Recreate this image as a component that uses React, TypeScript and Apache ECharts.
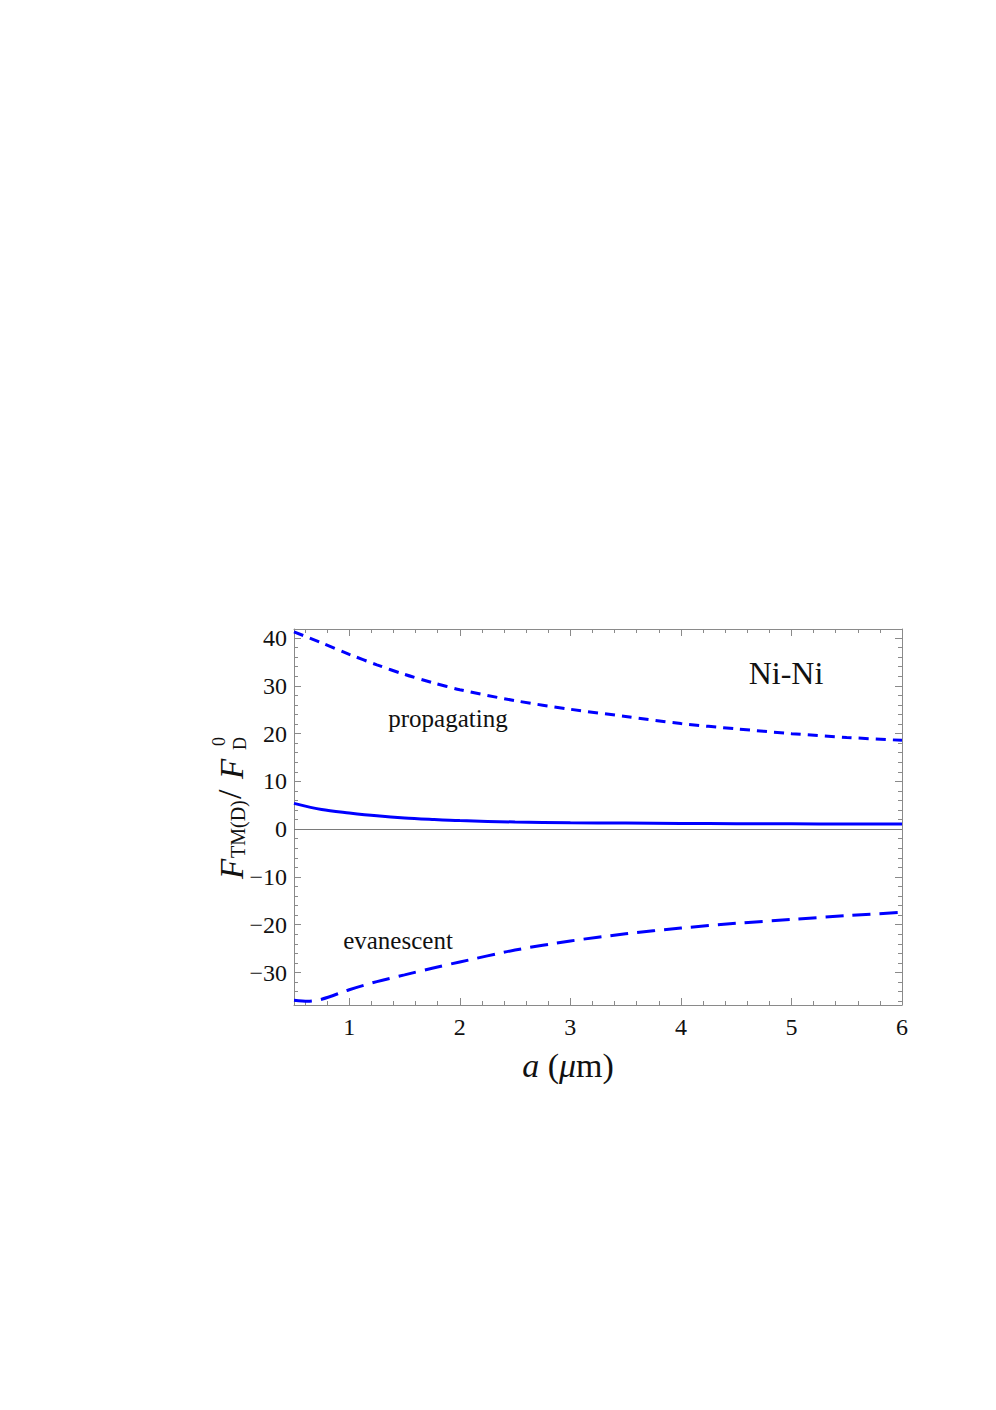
import React, { useEffect, useRef } from "react";
import * as echarts from "echarts";

// propagating contribution (short dashed)
const propA = [0.5, 0.75, 1, 1.25, 1.5, 1.75, 2, 2.5, 3, 3.5, 4, 4.5, 5, 5.5, 6];
const propF = [41.3, 39.0, 36.6, 34.4, 32.4, 30.7, 29.2, 26.9, 25.1, 23.6, 22.1, 21.0, 20.0, 19.2, 18.6];

// evanescent contribution (long dashed)
const evanA = [0.5, 0.625, 0.75, 1, 1.25, 1.5, 1.75, 2, 2.5, 3, 3.5, 4, 4.5, 5, 5.5, 6];
const evanF = [-35.8, -36.0, -35.6, -33.6, -31.9, -30.5, -29.1, -27.8, -25.3, -23.4, -21.9, -20.7, -19.7, -18.9, -18.1, -17.4];

// total (solid)
const totA = [0.5, 0.75, 1, 1.25, 1.5, 1.75, 2, 2.5, 3, 3.5, 4, 4.5, 5, 5.5, 6];
const totF = [5.4, 4.1, 3.4, 2.8, 2.35, 2.05, 1.8, 1.5, 1.35, 1.27, 1.2, 1.15, 1.12, 1.1, 1.08];

const xMajor = [1, 2, 3, 4, 5, 6];
const xMinor = [0.6, 0.8, 1.2, 1.4, 1.6, 1.8, 2.2, 2.4, 2.6, 2.8, 3.2, 3.4, 3.6, 3.8, 4.2, 4.4, 4.6, 4.8, 5.2, 5.4, 5.6, 5.8];
const yMajor = [-30, -20, -10, 0, 10, 20, 30, 40];
const yMinor = [-36, -34, -32, -28, -26, -24, -22, -18, -16, -14, -12, -8, -6, -4, -2, 2, 4, 6, 8, 12, 14, 16, 18, 22, 24, 26, 28, 32, 34, 36, 38];

const X_MIN = 0.5;
const X_MAX = 6;
const Y_MIN = -36.8;
const Y_MAX = 41.9;

const FONT = "Liberation Serif";
const FRAME = "#8a8a8a";
const BLUE = "#0000ff";

function zip(a: number[], b: number[]) {
  return a.map((v, i) => [v, b[i]]);
}

function xAxis(position: "top" | "bottom", ticks: number[], len: number, line: boolean, label: boolean) {
  return {
    type: "value",
    position,
    min: X_MIN,
    max: X_MAX,
    axisLine: { show: line, onZero: false, lineStyle: { color: FRAME, width: 1 } },
    axisTick: { show: true, inside: true, length: len, customValues: ticks, lineStyle: { color: FRAME, width: 1 } },
    axisLabel: {
      show: label,
      customValues: ticks,
      fontSize: 24,
      fontFamily: FONT,
      color: "#111",
      margin: 10,
    },
    splitLine: { show: false },
  };
}

function yAxis(position: "left" | "right", ticks: number[], len: number, line: boolean, label: boolean) {
  return {
    type: "value",
    position,
    min: Y_MIN,
    max: Y_MAX,
    axisLine: { show: line, onZero: false, lineStyle: { color: FRAME, width: 1 } },
    axisTick: { show: true, inside: true, length: len, customValues: ticks, lineStyle: { color: FRAME, width: 1 } },
    axisLabel: {
      show: label,
      customValues: ticks,
      fontSize: 24,
      fontFamily: FONT,
      color: "#111",
      margin: 7,
      formatter: (v: number) => String(v).replace("-", "\u2212"),
    },
    splitLine: { show: false },
  };
}

export default function App() {
  const ref = useRef<HTMLDivElement>(null);
  useEffect(() => {
    document.body.style.margin = "0";
    if (!ref.current) return;
    const chart = echarts.init(ref.current, null, { renderer: "svg" });
    const rot = Math.PI / 2;
    chart.setOption({
      animation: false,
      backgroundColor: "#ffffff",
      grid: { left: 294, top: 629, right: 94, bottom: 405, containLabel: false },
      xAxis: [
        xAxis("bottom", xMajor, 7, true, true),
        xAxis("bottom", xMinor, 4, false, false),
        xAxis("top", xMajor, 7, true, false),
        xAxis("top", xMinor, 4, false, false),
      ],
      yAxis: [
        yAxis("left", yMajor, 7, true, true),
        yAxis("left", yMinor, 4, false, false),
        yAxis("right", yMajor, 7, true, false),
        yAxis("right", yMinor, 4, false, false),
      ],
      series: [
        {
          type: "line",
          name: "total",
          data: zip(totA, totF),
          smooth: 0.3,
          showSymbol: false,
          lineStyle: { color: BLUE, width: 3 },
          markLine: {
            silent: true,
            symbol: "none",
            label: { show: false },
            lineStyle: { color: "#7a7a7a", width: 1, type: "solid" },
            data: [{ yAxis: 0 }],
          },
          z: 3,
        },
        {
          type: "line",
          name: "propagating",
          data: zip(propA, propF),
          smooth: 0.3,
          showSymbol: false,
          lineStyle: { color: BLUE, width: 3, type: [10, 7] },
        },
        {
          type: "line",
          name: "evanescent",
          data: zip(evanA, evanF),
          smooth: 0.3,
          showSymbol: false,
          lineStyle: { color: BLUE, width: 3, type: [18, 9] },
        },
      ],
      graphic: [
        {
          type: "text",
          x: 448,
          y: 718,
          style: { text: "propagating", font: `25px ${FONT}`, fill: "#111", textAlign: "center", textVerticalAlign: "middle" },
        },
        {
          type: "text",
          x: 398,
          y: 940,
          style: { text: "evanescent", font: `25px ${FONT}`, fill: "#111", textAlign: "center", textVerticalAlign: "middle" },
        },
        {
          type: "text",
          x: 786,
          y: 673,
          style: { text: "Ni-Ni", font: `32px ${FONT}`, fill: "#111", textAlign: "center", textVerticalAlign: "middle" },
        },
        {
          type: "text",
          x: 568,
          y: 1065,
          style: {
            text: "{i|a} ({i|\u03bc}m)",
            font: `34px ${FONT}`,
            fill: "#111",
            textAlign: "center",
            textVerticalAlign: "middle",
            rich: { i: { fontStyle: "italic", fontSize: 34, fontFamily: FONT, fill: "#111" } },
          },
        },
        // y-axis label: F_TM(D) / F_D^0, rotated
        {
          type: "text",
          x: 232,
          y: 879,
          rotation: rot,
          style: { text: "F", font: `italic 33px ${FONT}`, fill: "#111", textAlign: "left", textVerticalAlign: "middle" },
        },
        {
          type: "text",
          x: 238,
          y: 858,
          rotation: rot,
          style: { text: "TM(D)", font: `20px ${FONT}`, fill: "#111", textAlign: "left", textVerticalAlign: "middle" },
        },
        {
          type: "text",
          x: 229,
          y: 799,
          rotation: rot,
          style: { text: "/", font: `34px ${FONT}`, fill: "#111", textAlign: "left", textVerticalAlign: "middle" },
        },
        {
          type: "text",
          x: 232,
          y: 779,
          rotation: rot,
          style: { text: "F", font: `italic 33px ${FONT}`, fill: "#111", textAlign: "left", textVerticalAlign: "middle" },
        },
        {
          type: "text",
          x: 240,
          y: 750,
          rotation: rot,
          style: { text: "D", font: `18px ${FONT}`, fill: "#111", textAlign: "left", textVerticalAlign: "middle" },
        },
        {
          type: "text",
          x: 219,
          y: 746,
          rotation: rot,
          style: { text: "0", font: `18px ${FONT}`, fill: "#111", textAlign: "left", textVerticalAlign: "middle" },
        },
      ],
    });
    return () => chart.dispose();
  }, []);
  return <div ref={ref} style={{ width: 996, height: 1410 }} />;
}
